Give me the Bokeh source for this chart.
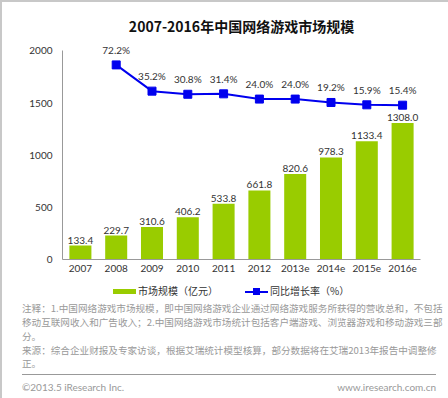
from bokeh.plotting import figure
from bokeh.models import Range1d, ColumnDataSource, FixedTicker, Div
from bokeh.layouts import column
from bokeh.embed import file_html
from bokeh.resources import INLINE
from bokeh.core.properties import value

# ---- data ----
years = ["2007", "2008", "2009", "2010", "2011", "2012", "2013e", "2014e", "2015e", "2016e"]
market = [133.4, 229.7, 310.6, 406.2, 533.8, 661.8, 820.6, 978.3, 1133.4, 1308.0]
rate_years = ["2008", "2009", "2010", "2011", "2012", "2013e", "2014e", "2015e", "2016e"]
rates = [72.2, 35.2, 30.8, 31.4, 24.0, 24.0, 19.2, 15.9, 15.4]
y_ticks = [0, 500, 1000, 1500, 2000]
title_text = "2007-2016年中国网络游戏市场规模"
bar_name = "市场规模（亿元）"
rate_name = "同比增长率（%）"
note_lines = [
    "注释：1.中国网络游戏市场规模，即中国网络游戏企业通过网络游戏服务所获得的营收总和，不包括",
    "移动互联网收入和广告收入；2.中国网络游戏市场统计包括客户端游戏、浏览器游戏和移动游戏三部",
    "分。",
    "来源：综合企业财报及专家访谈，根据艾瑞统计模型核算，部分数据将在艾瑞2013年报告中调整修",
    "正。",
]
footer_left = "©2013.5 iResearch Inc."
footer_right = "www.iresearch.com.cn"

NUM = "Lato"
CJK = "Noto Sans CJK SC"
GREEN = "#99CC00"
BLUE = "#0000EE"
W = 444
H_MAIN = 278
H_NOTES = 116
Y_END = 2100

p = figure(x_range=years, y_range=Range1d(0, Y_END), width=W, height=H_MAIN,
           output_backend="svg", toolbar_location=None, title=title_text,
           min_border_left=60, min_border_right=26, min_border_top=38, min_border_bottom=21)
p.x_range.range_padding = 0
p.title.align = "center"
p.title.text_font = CJK
p.title.text_font_size = "14px"
p.title.text_font_style = "bold"
p.title.text_color = "#111111"
p.outline_line_color = None
p.grid.visible = False
p.extra_y_ranges = {"rate": Range1d(-202.2, 106.6)}

for ax in (p.xaxis[0], p.yaxis[0]):
    ax.axis_line_color = "#999999"
    ax.major_tick_line_color = None
    ax.minor_tick_line_color = None
    ax.major_tick_out = 0
    ax.minor_tick_out = 0
    ax.major_label_text_font = NUM
    ax.major_label_text_font_size = "10px"
    ax.major_label_text_color = "#333333"
p.yaxis.ticker = FixedTicker(ticks=y_ticks)
p.yaxis.bounds = (0, 2000)
p.yaxis.major_label_standoff = 10
p.xaxis.major_label_standoff = 5

src = ColumnDataSource(dict(x=years, y=market, lab=[f"{v:.1f}" for v in market]))
p.vbar(x="x", top="y", width=0.615, source=src, fill_color=GREEN, line_color=None)
p.text(x="x", y="y", text="lab", source=src, text_align="center", text_baseline="bottom",
       y_offset=-2, text_font=value(NUM), text_font_size="10px", text_color="#333333")

rsrc = ColumnDataSource(dict(x=rate_years, y=rates, lab=[f"{v:.1f}%" for v in rates]))
p.line("x", "y", source=rsrc, y_range_name="rate", line_color=BLUE, line_width=2)
p.scatter("x", "y", source=rsrc, y_range_name="rate", marker="square", size=8,
          fill_color=BLUE, line_color=BLUE)
p.text(x="x", y="y", text="lab", source=rsrc, y_range_name="rate", text_align="center",
       text_baseline="bottom", y_offset=-9, text_font=value(NUM), text_font_size="10px",
       text_color="#333333")

# ---- legend, notes and footer as an HTML block below the chart ----
def box(left, top, inner, extra=""):
    return (f'<div style="position:absolute;left:{left}px;top:{top}px;'
            f'white-space:nowrap;{extra}">{inner}</div>')

parts = []
# legend
parts.append(box(106, 4, "", f"width:23px;height:5px;background:{GREEN};"))
parts.append(box(131, 0, bar_name, "font-size:10px;line-height:12px;color:#333333;"))
parts.append(box(238, 5.5, "", f"width:23px;height:2px;background:{BLUE};"))
parts.append(box(246, 3, "", f"width:7px;height:7px;background:{BLUE};"))
parts.append(box(263, 0, rate_name, "font-size:10px;line-height:12px;color:#333333;"))
# notes
for t, c in zip(note_lines, [23, 37, 51, 65, 78]):
    parts.append(box(15, c - 7, t, "font-size:9.6px;line-height:14px;color:#999999;"))
# separator + footer
parts.append(box(15, 89, "", "width:414px;height:1px;background:#999999;"))
parts.append(box(15, 95, footer_left,
                 f"font-family:{NUM};font-size:10px;line-height:14px;color:#999999;"))
parts.append(f'<div style="position:absolute;right:15px;top:95px;white-space:nowrap;'
             f'font-family:{NUM};font-size:10px;line-height:14px;color:#999999;">'
             f'{footer_right}</div>')

html = (f'<div style="position:relative;width:{W}px;height:{H_NOTES}px;'
        f"font-family:'{CJK}';\">" + "".join(parts) + "</div>")
notes = Div(text=html, width=W, height=H_NOTES)

layout = column(p, notes, spacing=0, styles={"border": "2px solid #c8c8c8"})
open("out.html", "w").write(file_html(layout, INLINE))
